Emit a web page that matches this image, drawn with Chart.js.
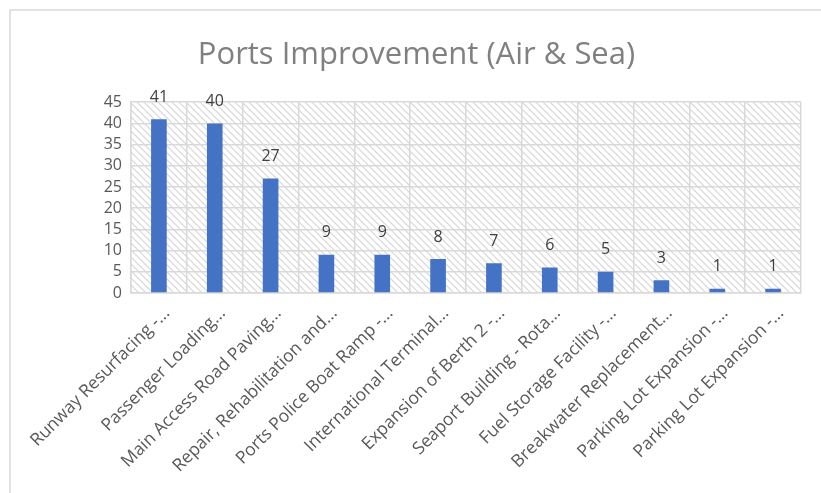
<!DOCTYPE html>
<html>
<head>
<meta charset="utf-8">
<script src="https://cdn.jsdelivr.net/npm/chart.js@4"></script>
<style>
  html, body { margin: 0; padding: 0; background: #fff; overflow: hidden; }
  #wrap { width: 821px; height: 493px; }
</style>
</head>
<body>
<div id="wrap"><canvas id="chart" width="821" height="493"></canvas></div>
<script>
// Chart data
const projects = [
    'Runway Resurfacing -...',
    'Passenger Loading...',
    'Main Access Road Paving...',
    'Repair, Rehabilitation and...',
    'Ports Police Boat Ramp -...',
    'International Terminal...',
    'Expansion of Berth 2 -...',
    'Seaport Building - Rota...',
    'Fuel Storage Facility -...',
    'Breakwater Replacement...',
    'Parking Lot Expansion -...',
    'Parking Lot Expansion -...'
];
const counts = [41, 40, 27, 9, 9, 8, 7, 6, 5, 3, 1, 1];
const yTicks = [0, 5, 10, 15, 20, 25, 30, 35, 40, 45];

// Diagonal hatch for the plot area
function makeHatch() {
    const size = 7;
    const c = document.createElement('canvas');
    c.width = size;
    c.height = size;
    const g = c.getContext('2d');
    g.fillStyle = '#ffffff';
    g.fillRect(0, 0, size, size);
    g.strokeStyle = '#d6d6d6';
    g.lineWidth = 1.2;
    g.beginPath();
    g.moveTo(-1, -1);
    g.lineTo(size + 1, size + 1);
    g.moveTo(-1, size - 1);
    g.lineTo(1, size + 1);
    g.moveTo(size - 1, -1);
    g.lineTo(size + 1, 1);
    g.stroke();
    return g.createPattern(c, 'repeat');
}

// Plot background + outer frame
const backgroundPlugin = {
    id: 'background',
    beforeDraw(chart) {
        const { ctx, chartArea } = chart;
        ctx.save();
        ctx.fillStyle = makeHatch();
        ctx.fillRect(chartArea.left, chartArea.top,
            chartArea.right - chartArea.left, chartArea.bottom - chartArea.top);
        // frame of the chart object (right/bottom are off-screen)
        ctx.strokeStyle = '#d9d9d9';
        ctx.lineWidth = 1.5;
        ctx.beginPath();
        ctx.moveTo(10, chart.height);
        ctx.lineTo(10, 10);
        ctx.lineTo(chart.width, 10);
        ctx.stroke();
        ctx.restore();
    }
};

// Values above bars
const valueLabelPlugin = {
    id: 'valueLabels',
    afterDatasetsDraw(chart) {
        const { ctx } = chart;
        const meta = chart.getDatasetMeta(0);
        ctx.save();
        ctx.font = '16px "Open Sans"';
        ctx.fillStyle = '#404040';
        ctx.textAlign = 'center';
        ctx.textBaseline = 'middle';
        meta.data.forEach((bar, i) => {
            ctx.fillText(String(counts[i]), bar.x, bar.y - 22);
        });
        ctx.restore();
    }
};

const ctx = document.getElementById('chart').getContext('2d');
new Chart(ctx, {
    type: 'bar',
    data: {
        labels: projects,
        datasets: [{
            data: counts,
            backgroundColor: '#4472c4',
            barPercentage: 0.56,
            categoryPercentage: 0.5
        }]
    },
    options: {
        responsive: false,
        animation: false,
        layout: {
            padding: { left: 32, right: 20, top: 0, bottom: 0 }
        },
        plugins: {
            legend: { display: false },
            tooltip: { enabled: false },
            title: {
                display: true,
                text: 'Ports Improvement (Air & Sea)',
                color: '#808080',
                font: { family: '"Open Sans"', size: 31, weight: 'normal' },
                padding: { top: 37, bottom: 28 }
            }
        },
        scales: {
            x: {
                grid: { color: '#d9d9d9', lineWidth: 1.5, drawTicks: false },
                border: { color: '#d9d9d9', width: 1.5 },
                ticks: {
                    color: '#595959',
                    font: { family: '"Open Sans"', size: 17.5 },
                    minRotation: 45,
                    maxRotation: 45,
                    autoSkip: false,
                    padding: 10,
                    labelOffset: 8
                },
                afterFit(scale) { scale.height = 200; }
            },
            y: {
                min: 0,
                max: 45,
                afterBuildTicks(scale) {
                    scale.ticks = yTicks.map(v => ({ value: v }));
                },
                grid: { color: '#d9d9d9', lineWidth: 1.5, drawTicks: false },
                border: { color: '#d9d9d9', width: 1.5 },
                ticks: {
                    color: '#595959',
                    font: { family: '"Open Sans"', size: 16 },
                    padding: 9,
                    autoSkip: false
                },
                afterFit(scale) { scale.width = 99; }
            }
        }
    },
    plugins: [backgroundPlugin, valueLabelPlugin]
});
</script>
</body>
</html>
